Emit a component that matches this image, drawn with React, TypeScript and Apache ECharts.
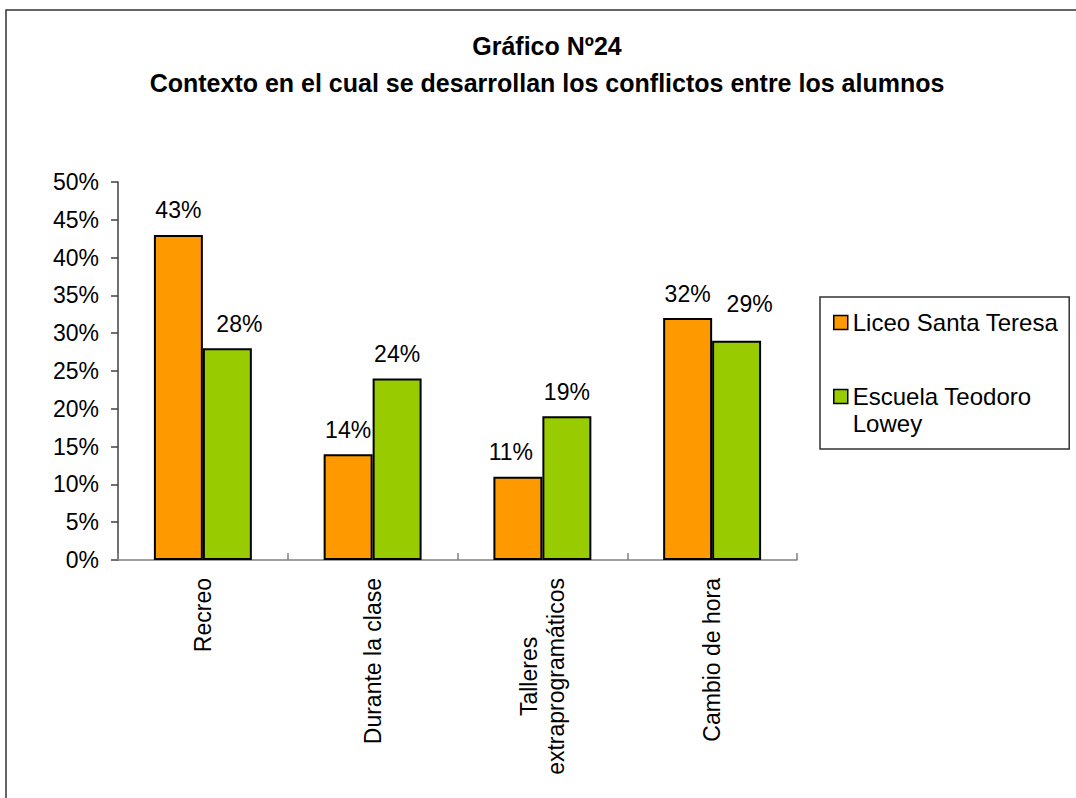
import React, { useEffect, useRef } from "react";
import * as echarts from "echarts";

const categories = ["Recreo", "Durante la clase", "Talleres\nextraprogramáticos", "Cambio de hora"];
const seriesNames = ["Liceo Santa Teresa", "Escuela Teodoro Lowey"];
const liceoValues = [43, 14, 11, 32];
const escuelaValues = [28, 24, 19, 29];
const yTicks = { min: 0, max: 50, interval: 5 };
const titleLines = ["Gráfico Nº24", "Contexto en el cual se desarrollan los conflictos entre los alumnos"];

// label placement nudges (style only), keyed by series index then category index
const labelNudges: Record<number, Record<number, [number, number]>> = {
  0: { 2: [-7, 0] },
  1: { 0: [12, 0], 3: [13, -12] },
};

const FONT = "'Liberation Sans', Arial, sans-serif";

export default function App() {
  const ref = useRef<HTMLDivElement>(null);
  useEffect(() => {
    if (!ref.current) return;
    const chart = echarts.init(ref.current, null, { renderer: "svg" });
    const labelStyle = {
      show: true,
      position: "top",
      distance: 13,
      formatter: "{c}%",
      fontSize: 23,
      color: "#000",
      fontFamily: FONT,
    };
    const buildData = (vals: number[], si: number) =>
      vals.map((v, i) =>
        labelNudges[si] && labelNudges[si][i]
          ? { value: v, label: { offset: labelNudges[si][i] } }
          : v
      );
    chart.setOption({
      animation: false,
      backgroundColor: "#fff",
      textStyle: { fontFamily: FONT },
      graphic: [
        {
          type: "rect",
          shape: { x: 6, y: 10, width: 1200, height: 1000 },
          style: { fill: "none", stroke: "#333", lineWidth: 1.5 },
          silent: true,
        },
        {
          type: "text",
          x: 547,
          y: 64.5,
          style: {
            text: titleLines.join("\n"),
            align: "center",
            verticalAlign: "middle",
            fontSize: 25,
            fontWeight: "bold",
            fontFamily: FONT,
            lineHeight: 37,
            fill: "#000",
          },
        },
      ],
      grid: { left: 118, right: 279, top: 182, bottom: 238, containLabel: false },
      legend: {
        orient: "vertical",
        left: 820,
        top: 297,
        icon: "rect",
        itemWidth: 14,
        itemHeight: 14,
        itemGap: 20,
        padding: [12, 11, 12, 13],
        borderColor: "#333",
        borderWidth: 1.5,
        itemStyle: { borderColor: "#000", borderWidth: 1.5 },
        textStyle: { fontSize: 24, color: "#000", fontFamily: FONT, lineHeight: 27 },
        data: [seriesNames[0], seriesNames[1]],
        formatter: (name: string) => (name === seriesNames[1] ? " \nEscuela Teodoro\nLowey" : name),
      },
      xAxis: {
        type: "category",
        data: categories,
        axisLine: { lineStyle: { color: "#808080", width: 1.5 } },
        axisTick: { show: true, inside: true, length: 7, lineStyle: { color: "#808080", width: 1.5 } },
        axisLabel: {
          rotate: 90,
          margin: 18,
          interval: 0,
          fontSize: 23,
          color: "#000",
          fontFamily: FONT,
          lineHeight: 27,
          formatter: (v: string) => v.split("\n").map((l) => `{c|${l}}`).join("\n"),
          rich: { c: { align: "center", fontSize: 23, lineHeight: 27, fontFamily: FONT, color: "#000" } },
        },
        splitLine: { show: false },
      },
      yAxis: {
        type: "value",
        min: yTicks.min,
        max: yTicks.max,
        interval: yTicks.interval,
        axisLine: { show: true, lineStyle: { color: "#404040", width: 1.5 } },
        axisTick: { show: true, length: 7, lineStyle: { color: "#404040", width: 1.5 } },
        axisLabel: { formatter: "{value}%", margin: 19, fontSize: 23, color: "#000", fontFamily: FONT },
        splitLine: { show: false },
      },
      series: [
        {
          name: seriesNames[0],
          type: "bar",
          data: buildData(liceoValues, 0),
          barGap: "0%",
          barCategoryGap: "42.3%",
          itemStyle: { color: "#FF9900", borderColor: "#000", borderWidth: 2 },
          label: labelStyle,
        },
        {
          name: seriesNames[1],
          type: "bar",
          data: buildData(escuelaValues, 1),
          barGap: "0%",
          barCategoryGap: "42.3%",
          itemStyle: { color: "#99CC00", borderColor: "#000", borderWidth: 2 },
          label: labelStyle,
        },
      ],
    });
    return () => chart.dispose();
  }, []);
  return (
    <div
      ref={ref}
      style={{ position: "fixed", left: 0, top: 0, width: 1076, height: 798 }}
    />
  );
}
